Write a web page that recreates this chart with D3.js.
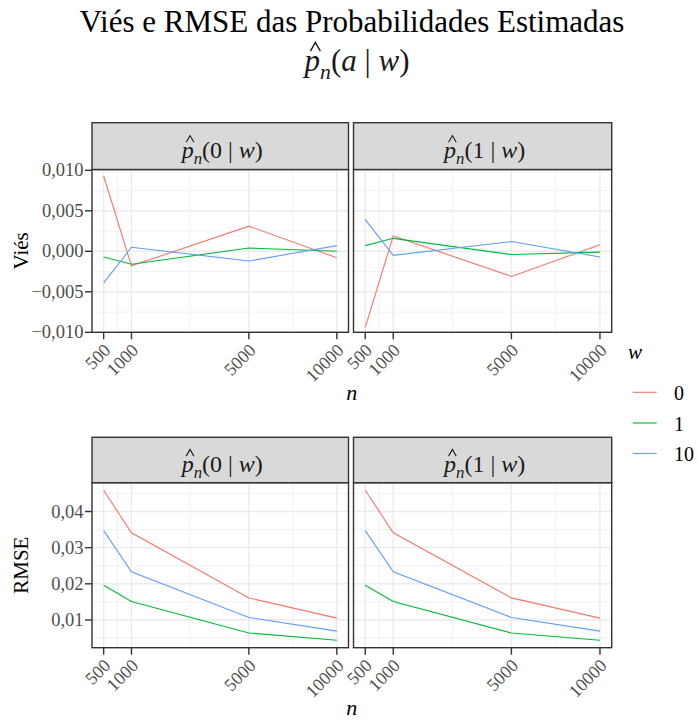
<!DOCTYPE html>
<html lang="pt">
<head>
  <meta charset="UTF-8">
  <title>Viés e RMSE das Probabilidades Estimadas</title>
  <script src="https://d3js.org/d3.v7.min.js"></script>
  <style>
    body { margin: 0; background: white; }
    svg { font-family: "Liberation Serif", "Times New Roman", serif; }
  </style>
</head>
<body>
  <div id="chart"></div>
  <script>
    // Data
    const nValues = [500, 1000, 5000, 10000];
    const wLevels = ["0", "1", "10"];
    const wColors = ["#F8766D", "#00BA38", "#619CFF"];

    // Viés, p_n(0 | w)
    const biasP0_w0 = [0.0093, -0.0018, 0.0031, -0.0008];
    const biasP0_w1 = [-0.0007, -0.0016, 0.0004, 0.0000];
    const biasP0_w10 = [-0.0039, 0.0005, -0.0012, 0.0007];
    // Viés, p_n(1 | w)
    const biasP1_w0 = [-0.0094, 0.0019, -0.0031, 0.0008];
    const biasP1_w1 = [0.0007, 0.0016, -0.0004, -0.0001];
    const biasP1_w10 = [0.0039, -0.0005, 0.0012, -0.0007];
    // RMSE, p_n(0 | w)
    const rmseP0_w0 = [0.0459, 0.0341, 0.0161, 0.0105];
    const rmseP0_w1 = [0.0196, 0.0151, 0.0064, 0.0044];
    const rmseP0_w10 = [0.0347, 0.0233, 0.0107, 0.0069];
    // RMSE, p_n(1 | w)
    const rmseP1_w0 = [0.0459, 0.0341, 0.0161, 0.0105];
    const rmseP1_w1 = [0.0196, 0.0151, 0.0064, 0.0044];
    const rmseP1_w10 = [0.0347, 0.0233, 0.0107, 0.0069];

    const biasTicks = [-0.01, -0.005, 0, 0.005, 0.01];
    const rmseTicks = [0.01, 0.02, 0.03, 0.04];
    const panelArgs = ["0", "1"];

    const width = 698, height = 720;
    const svg = d3.select("#chart").append("svg")
      .attr("width", width).attr("height", height);

    const panelX = [[92, 348.5], [353.5, 611.7]];
    const rowsLayout = [
      { stripTop: 122.7, panelTop: 169.5, bottom: 332.3, yTitle: "Viés", ticks: biasTicks, fmt: d3.format(".3f"),
        series: [[biasP0_w0, biasP0_w1, biasP0_w10], [biasP1_w0, biasP1_w1, biasP1_w10]], fixed: [-0.01, 0.01] },
      { stripTop: 437.3, panelTop: 482.7, bottom: 647.7, yTitle: "RMSE", ticks: rmseTicks, fmt: d3.format(".2f"),
        series: [[rmseP0_w0, rmseP0_w1, rmseP0_w10], [rmseP1_w0, rmseP1_w1, rmseP1_w10]], fixed: null }
    ];

    const dark = "#333333", grid = "#EBEBEB", tickCol = "#4D4D4D";
    const commaFmt = (f) => (v) => f(v).replace(".", ",").replace("-", "\u2212");

    // p-hat label: p̂_n(arg | w); the hat is drawn as a small path
    function mathLabel(parent, x, y, arg, size) {
      const t = parent.append("text")
        .attr("x", x).attr("y", y)
        .attr("text-anchor", "middle")
        .attr("fill", "#1A1A1A")
        .style("font-size", size + "px");
      t.append("tspan").attr("font-style", "italic").text("p");
      t.append("tspan").attr("font-style", "italic")
        .style("font-size", (size * 0.7) + "px").attr("dy", size * 0.25).text("n");
      t.append("tspan").attr("dy", -size * 0.25).text("(");
      t.append("tspan").attr("font-style", arg === "a" ? "italic" : "normal").text(arg);
      t.append("tspan").text(" | ");
      t.append("tspan").attr("font-style", "italic").text("w");
      t.append("tspan").text(")");
      const ext = t.node().getExtentOfChar(0);
      const cx = ext.x + ext.width / 2 + size * 0.1;
      const hw = size * 0.16, top = y - size * 0.92, bot = y - size * 0.64;
      parent.append("path")
        .attr("d", `M${cx - hw},${bot} L${cx},${top} L${cx + hw},${bot}`)
        .attr("fill", "none")
        .attr("stroke", "#1A1A1A")
        .attr("stroke-width", size * 0.045);
    }

    // Title
    svg.append("text")
      .attr("x", 352).attr("y", 31.5)
      .attr("text-anchor", "middle")
      .style("font-size", "31px")
      .text("Viés e RMSE das Probabilidades Estimadas");
    mathLabel(svg, 357, 71, "a", 31);

    rowsLayout.forEach((row) => {
      // y scale
      let yDomain;
      if (row.fixed) {
        yDomain = row.fixed;
      } else {
        const all = row.series.flat(2);
        const [lo, hi] = d3.extent(all);
        const pad = (hi - lo) * 0.05;
        yDomain = [lo - pad, hi + pad];
      }
      const y = d3.scaleLinear().domain(yDomain).range([row.bottom, row.fixed ? row.panelTop + 0.8 : row.panelTop]);
      const yFmt = commaFmt(row.fmt);
      const step = row.ticks[1] - row.ticks[0];
      const yMinor = row.ticks.slice(0, -1).map((v, i) => (v + row.ticks[i + 1]) / 2)
        .concat([row.ticks[0] - step / 2, row.ticks[row.ticks.length - 1] + step / 2])
        .filter((v) => v > yDomain[0] && v < yDomain[1]);

      panelX.forEach(([x0, x1], pi) => {
        // sqrt x scale with 5% expansion in transformed space
        const s0 = Math.sqrt(nValues[0]), s1 = Math.sqrt(nValues[nValues.length - 1]);
        const e = (s1 - s0) * 0.05;
        const x = d3.scaleSqrt().domain([Math.pow(s0 - e, 2), Math.pow(s1 + e, 2)]).range([x0, x1]);
        const xMinor = nValues.slice(0, -1).map((v, i) => Math.pow((Math.sqrt(v) + Math.sqrt(nValues[i + 1])) / 2, 2));

        const g = svg.append("g");
        g.append("rect").attr("x", x0).attr("y", row.panelTop)
          .attr("width", x1 - x0).attr("height", row.bottom - row.panelTop).attr("fill", "white");

        // minor grid
        g.selectAll(".ym").data(yMinor).join("line")
          .attr("x1", x0).attr("x2", x1).attr("y1", (d) => y(d)).attr("y2", (d) => y(d))
          .attr("stroke", grid).attr("stroke-width", 0.7);
        g.selectAll(".xm").data(xMinor).join("line")
          .attr("x1", (d) => x(d)).attr("x2", (d) => x(d)).attr("y1", row.panelTop).attr("y2", row.bottom)
          .attr("stroke", grid).attr("stroke-width", 0.7);
        // major grid
        g.selectAll(".yM").data(row.ticks).join("line")
          .attr("x1", x0).attr("x2", x1).attr("y1", (d) => y(d)).attr("y2", (d) => y(d))
          .attr("stroke", grid).attr("stroke-width", 1.4);
        g.selectAll(".xM").data(nValues).join("line")
          .attr("x1", (d) => x(d)).attr("x2", (d) => x(d)).attr("y1", row.panelTop).attr("y2", row.bottom)
          .attr("stroke", grid).attr("stroke-width", 1.4);

        // lines
        const line = d3.line().x((d, i) => x(nValues[i])).y((d) => y(d));
        row.series[pi].forEach((vals, wi) => {
          g.append("path").datum(vals)
            .attr("fill", "none").attr("stroke", wColors[wi]).attr("stroke-width", 1.1)
            .attr("d", line);
        });

        // border
        g.append("rect").attr("x", x0).attr("y", row.panelTop)
          .attr("width", x1 - x0).attr("height", row.bottom - row.panelTop)
          .attr("fill", "none").attr("stroke", dark).attr("stroke-width", 1.4);

        // strip
        g.append("rect").attr("x", x0).attr("y", row.stripTop)
          .attr("width", x1 - x0).attr("height", row.panelTop - row.stripTop)
          .attr("fill", "#D9D9D9").attr("stroke", dark).attr("stroke-width", 1.4);
        mathLabel(g, (x0 + x1) / 2 + 2, (row.stripTop + row.panelTop) / 2 + 11.5, panelArgs[pi], 24);

        // x axis ticks and labels
        g.selectAll(".xt").data(nValues).join("line")
          .attr("x1", (d) => x(d)).attr("x2", (d) => x(d))
          .attr("y1", row.bottom).attr("y2", row.bottom + 7)
          .attr("stroke", dark).attr("stroke-width", 1.4);
        g.selectAll(".xl").data(nValues).join("text")
          .attr("transform", (d) => `translate(${x(d) + 8},${row.bottom + 19}) rotate(-45)`)
          .attr("text-anchor", "end")
          .attr("fill", tickCol)
          .style("font-size", "18px")
          .text((d) => d);

        // y axis on left panel only
        if (pi === 0) {
          g.selectAll(".yt").data(row.ticks).join("line")
            .attr("x1", x0 - 7).attr("x2", x0)
            .attr("y1", (d) => y(d)).attr("y2", (d) => y(d))
            .attr("stroke", dark).attr("stroke-width", 1.4);
          g.selectAll(".yl").data(row.ticks).join("text")
            .attr("x", x0 - 8.5).attr("y", (d) => y(d))
            .attr("dy", "0.33em")
            .attr("text-anchor", "end")
            .attr("fill", tickCol)
            .style("font-size", "18.5px")
            .text((d) => yFmt(d));
        }
      });

      // axis titles
      svg.append("text")
        .attr("transform", `translate(28.3,${(row.panelTop + row.bottom) / 2}) rotate(-90)`)
        .attr("text-anchor", "middle")
        .style("font-size", "21px")
        .text(row.yTitle);
      svg.append("text")
        .attr("x", (panelX[0][0] + panelX[1][1]) / 2).attr("y", row.bottom + 67.5)
        .attr("text-anchor", "middle")
        .attr("font-style", "italic")
        .style("font-size", "22px")
        .text("n");
    });

    // Legend
    const legend = svg.append("g");
    legend.append("text")
      .attr("x", 628).attr("y", 359.3)
      .attr("font-style", "italic")
      .style("font-size", "21px")
      .text("w");
    const keyY = [392.3, 423, 453.5];
    wLevels.forEach((w, i) => {
      legend.append("line")
        .attr("x1", 632.7).attr("x2", 656.7)
        .attr("y1", keyY[i]).attr("y2", keyY[i])
        .attr("stroke", wColors[i]).attr("stroke-width", 1.1);
      legend.append("text")
        .attr("x", 674).attr("y", keyY[i] + 7.5)
        .style("font-size", "20px")
        .text(w);
    });
  </script>
</body>
</html>
